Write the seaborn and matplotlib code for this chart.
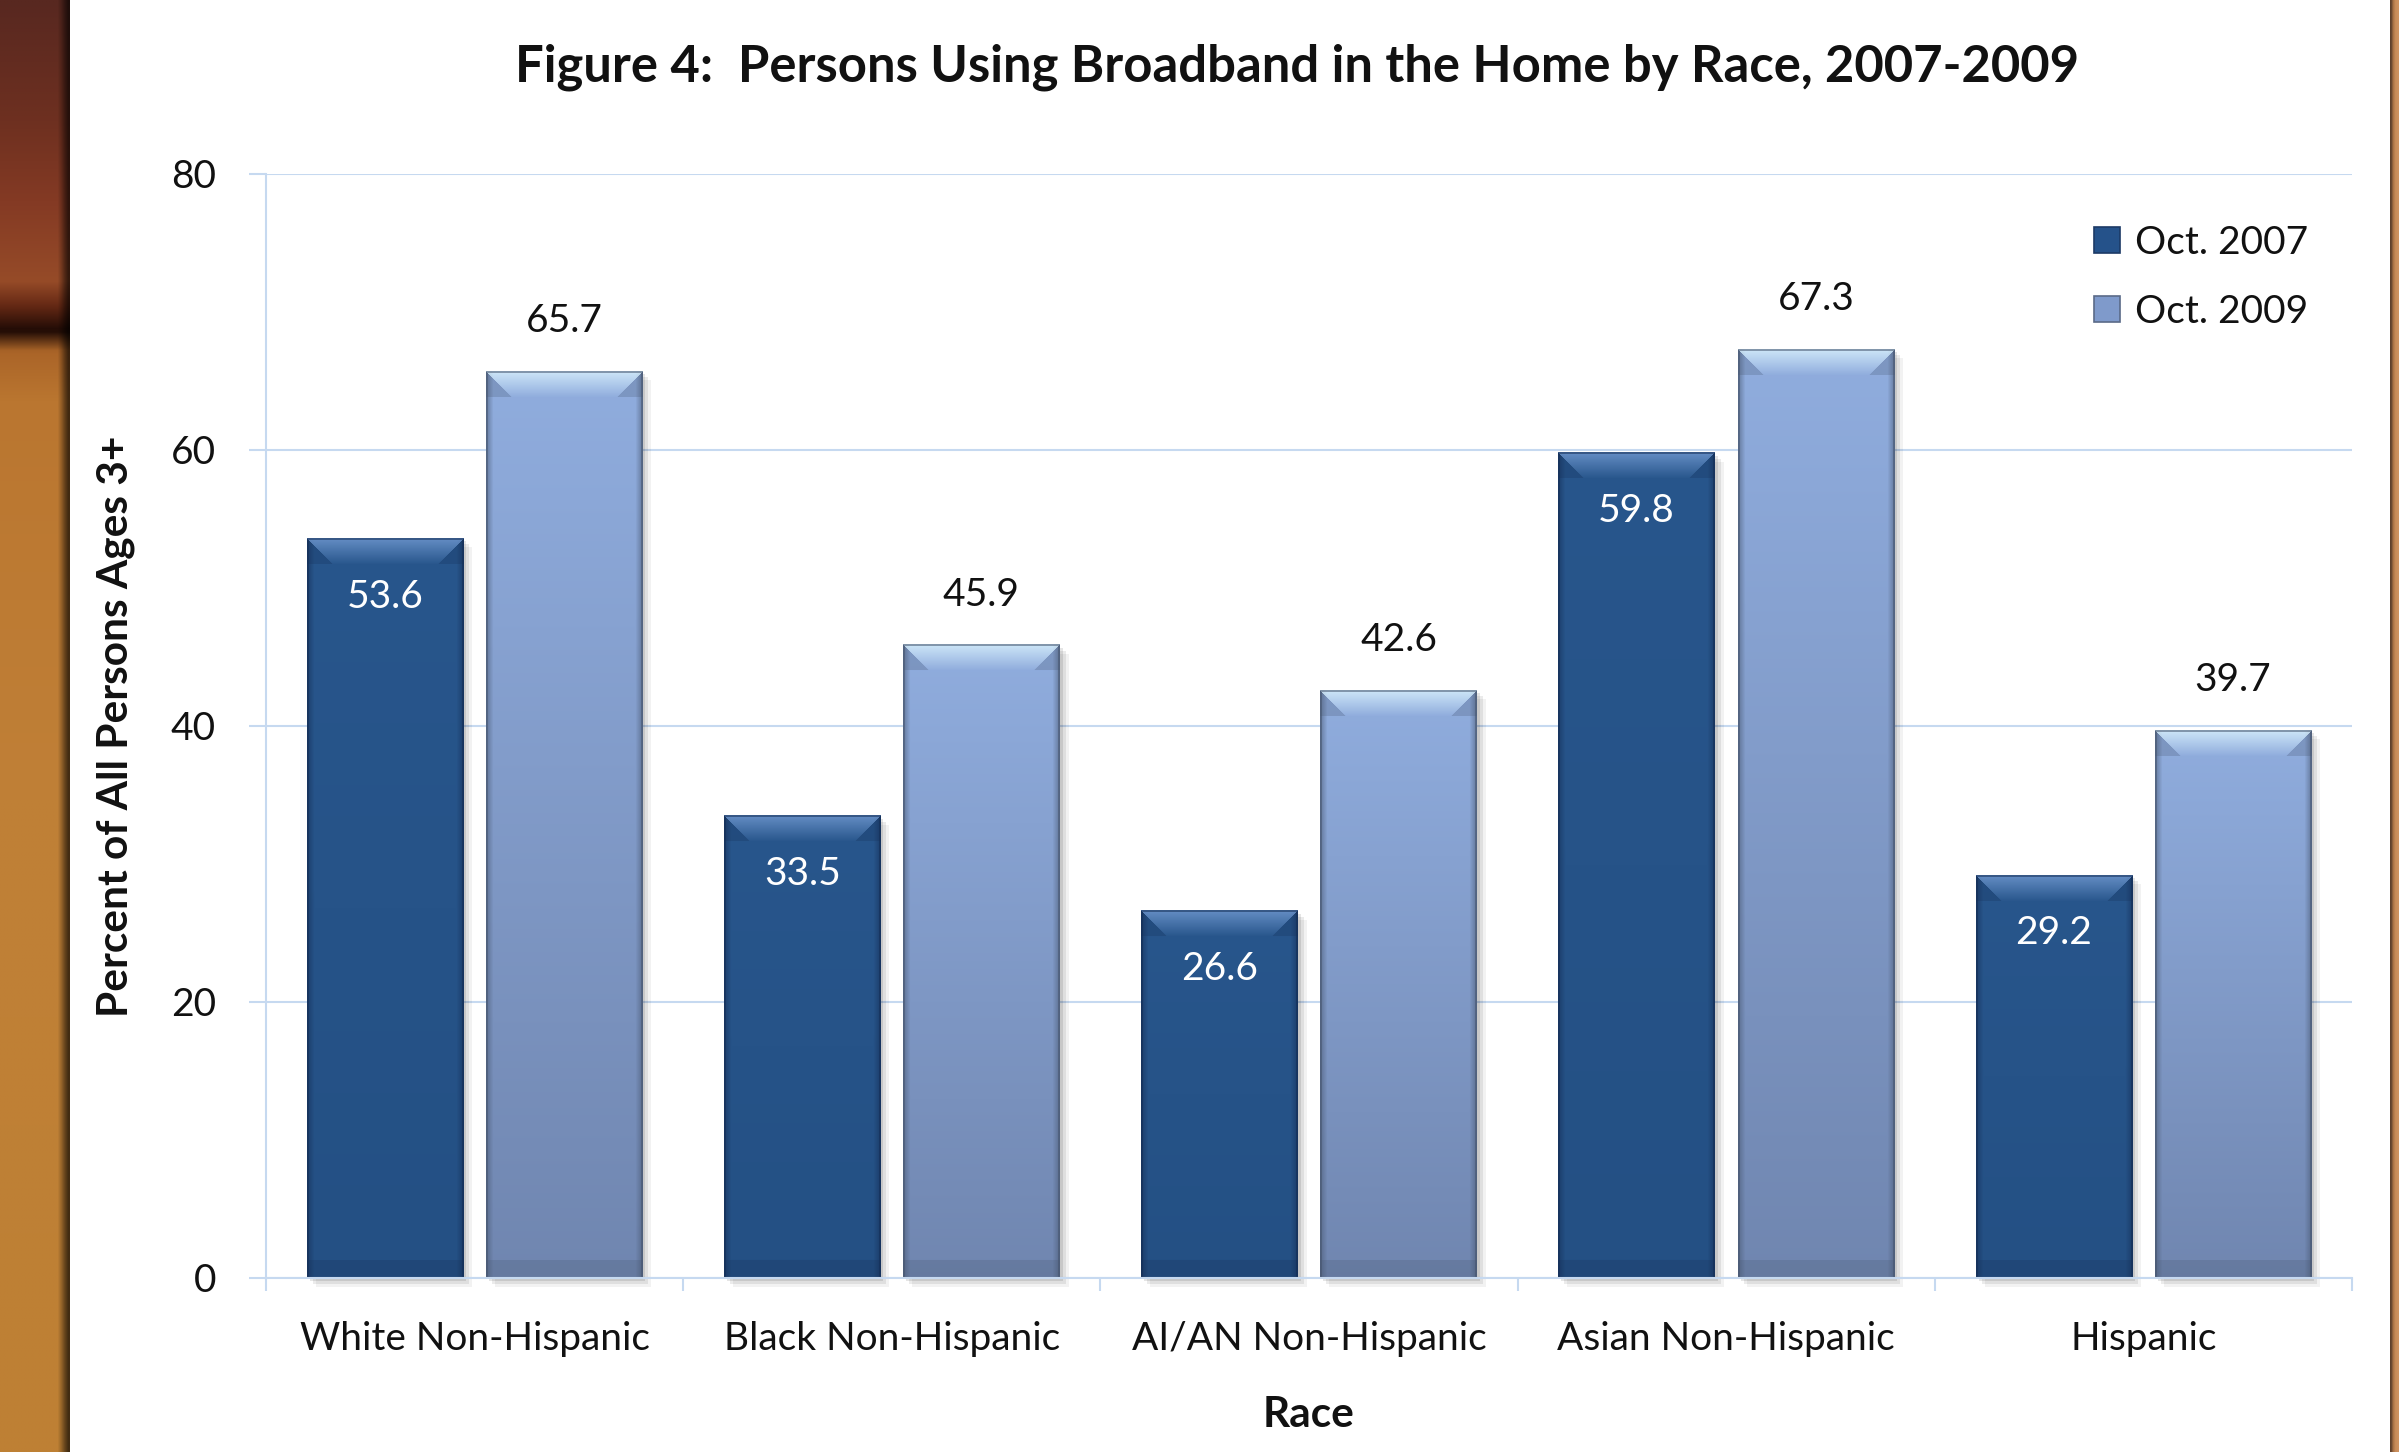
import numpy as np
import pandas as pd
import matplotlib
matplotlib.use("Agg")
import matplotlib.pyplot as plt
import matplotlib.transforms as mtransforms
from matplotlib.patches import Rectangle, Patch
import seaborn as sns

# ---------------- data ----------------
races = ["White Non-Hispanic", "Black Non-Hispanic", "AI/AN Non-Hispanic",
         "Asian Non-Hispanic", "Hispanic"]
oct_2007 = [53.6, 33.5, 26.6, 59.8, 29.2]
oct_2009 = [65.7, 45.9, 42.6, 67.3, 39.7]
periods = ["Oct. 2007", "Oct. 2009"]
y_ticks = [0, 20, 40, 60, 80]

title = "Figure 4:  Persons Using Broadband in the Home by Race, 2007-2009"
x_label = "Race"
y_label = "Percent of All Persons Ages 3+"

df = pd.DataFrame({
    "Race": races * 2,
    "Percent": oct_2007 + oct_2009,
    "Period": [periods[0]] * len(races) + [periods[1]] * len(races),
})

# ---------------- style ----------------
sns.set_theme(style="white")
FONT = ["Lato", "DejaVu Sans"]
plt.rcParams["font.family"] = FONT

W, H = 2399, 1452
DPI = 100
fig = plt.figure(figsize=(W / DPI, H / DPI), dpi=DPI)
fig.patch.set_facecolor("white")

GRID = "#C6D9F0"
DARK = "#25528A"
LIGHT = "#8EABDC"
TICK_FS = 28
LABEL_FS = 30.5

ax = fig.add_axes([266 / W, 1 - 1278 / H, (2352 - 266) / W, (1278 - 174) / H])
sns.barplot(data=df, x="Race", y="Percent", hue="Period", order=races,
            hue_order=periods, palette=[DARK, LIGHT], width=0.859, gap=0.128,
            ax=ax, zorder=3, linewidth=0)
if ax.get_legend() is not None:
    ax.get_legend().remove()

ax.set_xlim(-0.5, len(races) - 0.5)
ax.set_ylim(0, 80)
ax.set_yticks(y_ticks)
ax.set_yticklabels([str(v) for v in y_ticks])

# grid & spines
ax.set_axisbelow(True)
ax.yaxis.grid(True, color=GRID, linewidth=1.5, zorder=0)
ax.xaxis.grid(False)
for s in ["top", "right"]:
    ax.spines[s].set_visible(False)
for s in ["left", "bottom"]:
    ax.spines[s].set_color(GRID)
    ax.spines[s].set_linewidth(1.5)
    ax.spines[s].set_zorder(4)

ax.tick_params(axis="y", which="major", length=12, width=1.5, color=GRID,
               pad=24, labelsize=TICK_FS, labelcolor="#111111", left=True)
ax.set_xticks(np.arange(-0.5, len(races)), minor=True)
ax.tick_params(axis="x", which="minor", length=9.5, width=1.5, color=GRID,
               bottom=True)
ax.tick_params(axis="x", which="major", length=0, pad=31,
               labelsize=TICK_FS, labelcolor="#111111")

ax.set_xlabel(x_label, fontsize=LABEL_FS, fontweight="bold", labelpad=28,
              color="#111111")
ax.set_ylabel(y_label, fontsize=LABEL_FS, fontweight="bold", labelpad=26,
              color="#111111")
fig.text(1297 / W, 1 - 67 / H, title, ha="center", va="center",
         fontsize=36.5, fontweight="bold", color="#111111")

# ---------------- bevelled bar rendering ----------------
fig.canvas.draw()


def bevel_image(wpx, hpx, top, bot, edge, hilite, bev=26, side=7):
    top = np.array(top) / 255.0
    bot = np.array(bot) / 255.0
    edge = np.array(edge) / 255.0
    hilite = np.array(hilite) / 255.0
    t = np.linspace(0, 1, hpx)[:, None, None]
    img = (1 - t) * top + t * bot
    img = np.repeat(img, wpx, axis=1)
    x = np.arange(wpx)
    dist = np.minimum(x, wpx - 1 - x)[None, :]
    r = np.arange(hpx)[:, None]
    rb = hpx - 1 - r
    # side shading
    wside = np.clip(1 - dist / side, 0, 1) * 0.55
    img = img * (1 - wside[..., None]) + edge * wside[..., None]
    # top bevel trapezoid
    bev = min(bev, max(hpx // 3, 2))
    topface = (r < bev) & (dist >= r)
    wt = np.where(topface, (1 - r / bev) * 0.8, 0.0)
    img = img * (1 - wt[..., None]) + hilite * wt[..., None]
    sideface = (r < bev) & (dist < r)
    ws = np.where(sideface, 0.25, 0.0)
    img = img * (1 - ws[..., None]) + edge * ws[..., None]
    # bottom bevel
    bb = int(bev * 0.7)
    wb = np.where(rb < bb, 0.25, 0.0)
    img = img * (1 - wb[..., None]) + edge * wb[..., None]
    # outline
    ol = (dist < 2) | (r < 2)
    img[ol] = img[ol] * 0.45 + edge * 0.55
    return np.clip(img, 0, 1)


styles = [
    dict(top=(40, 86, 140), bot=(36, 80, 132), edge=(20, 45, 85),
         hilite=(115, 155, 210)),
    dict(top=(144, 173, 222), bot=(112, 134, 176), edge=(70, 85, 110),
         hilite=(220, 244, 254)),
]

inv = ax.transData
for ci, cont in enumerate(ax.containers):
    st = styles[ci]
    for patch in cont.patches:
        x0 = patch.get_x()
        bw = patch.get_width()
        bh = patch.get_height()
        (px0, py0), (px1, py1) = inv.transform([(x0, 0), (x0 + bw, bh)])
        wpx = max(int(round(px1 - px0)), 4)
        hpx = max(int(round(py1 - py0)), 4)
        img = bevel_image(wpx, hpx, **st)
        ax.imshow(img, extent=(x0, x0 + bw, 0, bh), origin="upper",
                  aspect="auto", interpolation="bilinear", zorder=3.5)
        # soft shadow
        for dx, dy, a in [(3, 3, 0.10), (6, 6, 0.08), (9, 9, 0.05)]:
            off = mtransforms.ScaledTranslation(dx / DPI, -dy / DPI,
                                                fig.dpi_scale_trans)
            sh = Rectangle((x0, 0), bw, bh, transform=ax.transData + off,
                           facecolor="black", alpha=a, edgecolor="none",
                           zorder=2.5, clip_on=False)
            ax.add_patch(sh)
        patch.set_visible(False)

ax.set_xlim(-0.5, len(races) - 0.5)
ax.set_ylim(0, 80)

# value labels
for ci, cont in enumerate(ax.containers):
    vals = oct_2007 if ci == 0 else oct_2009
    for patch, v in zip(cont.patches, vals):
        cx = patch.get_x() + patch.get_width() / 2
        top = patch.get_height()
        if ci == 0:
            ax.annotate(f"{v:.1f}", (cx, top), xytext=(0, -42),
                        textcoords="offset points", ha="center", va="center",
                        fontsize=TICK_FS, color="white", zorder=6)
        else:
            ax.annotate(f"{v:.1f}", (cx, top), xytext=(0, 36),
                        textcoords="offset points", ha="center", va="center",
                        fontsize=TICK_FS, color="#111111", zorder=6)

# legend
handles = [Patch(facecolor=DARK, edgecolor="#1c3a66", linewidth=1.2),
           Patch(facecolor="#7f9acb", edgecolor="#5a6a88", linewidth=1.2)]
ax.legend(handles, periods, loc="upper left", bbox_to_anchor=(0.869, 0.968),
          frameon=False, fontsize=TICK_FS, handlelength=0.65, handleheight=0.65,
          handletextpad=0.4, labelspacing=0.85, borderaxespad=0,
          labelcolor="#111111")

# ---------------- wood frame edges ----------------
wood_l = fig.add_axes([0, 0, 70 / W, 1])
stops_y = np.array([0, 120, 200, 280, 305, 330, 350, 400, 800, 1452]) / H
stops_c = np.array([(88, 40, 32), (110, 48, 32), (132, 58, 36), (150, 75, 40),
                    (100, 40, 20), (30, 10, 5), (170, 100, 40), (186, 118, 48),
                    (192, 128, 55), (190, 128, 52)]) / 255.0
yy = np.linspace(0, 1, 400)
col = np.stack([np.interp(yy, stops_y, stops_c[:, i]) for i in range(3)], axis=1)
wimg = np.repeat(col[:, None, :], 20, axis=1)
shade = np.ones(20)
shade[-3:] = [0.8, 0.55, 0.35]
wimg = wimg * shade[None, :, None]
wood_l.imshow(wimg, aspect="auto", extent=(0, 1, 0, 1), origin="upper",
              interpolation="bilinear")
wood_l.set_axis_off()

wood_r = fig.add_axes([2390 / W, 0, 9 / W, 1])
rimg = np.array([[(95, 65, 45), (170, 115, 70), (200, 140, 90), (205, 145, 95)]]) / 255.0
wood_r.imshow(np.repeat(rimg, 10, axis=0), aspect="auto", extent=(0, 1, 0, 1),
              interpolation="bilinear")
wood_r.set_axis_off()

fig.savefig("out.png", dpi=DPI, facecolor="white")
